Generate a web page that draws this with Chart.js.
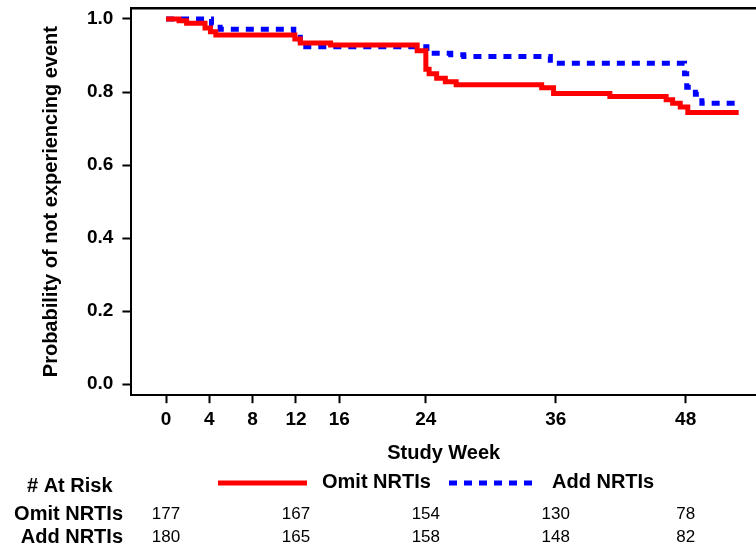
<!DOCTYPE html>
<html>
<head>
<meta charset="utf-8">
<script src="https://cdn.jsdelivr.net/npm/chart.js@4.4.1/dist/chart.umd.min.js"></script>
<style>
  html, body { margin: 0; padding: 0; background: #fff; overflow: hidden; }
  #wrap { position: relative; width: 756px; height: 551px; }
</style>
</head>
<body>
<div id="wrap"><canvas id="kmChart"></canvas></div>
<script>
const seriesNames = ["Omit NRTIs", "Add NRTIs"];

const omitWeeks = [0, 1.2, 1.9, 3.6, 4.1, 4.6, 11.9, 12.4, 15.2, 23.2, 24.0, 24.3, 25.0, 25.8, 26.8, 34.7, 35.8, 41.0, 46.2, 46.8, 47.5, 48.2, 52.9];
const omitSurv = [1.0, 0.995, 0.988, 0.975, 0.965, 0.956, 0.945, 0.934, 0.929, 0.913, 0.862, 0.850, 0.838, 0.828, 0.820, 0.812, 0.796, 0.788, 0.779, 0.769, 0.759, 0.744, 0.744];

const addWeeks = [0, 4.2, 5.0, 11.8, 12.4, 24.1, 26.3, 27.5, 35.5, 47.9, 48.1, 48.9, 49.5, 53.0];
const addSurv = [1.0, 0.984, 0.972, 0.950, 0.924, 0.906, 0.902, 0.897, 0.879, 0.850, 0.813, 0.794, 0.769, 0.769];

const xTickWeeks = [0, 4, 8, 12, 16, 24, 36, 48];
const yTickValues = [0, 0.2, 0.4, 0.6, 0.8, 1.0];

const atRiskWeeks = [0, 12, 24, 36, 48];
const omitAtRisk = [177, 167, 154, 130, 78];
const addAtRisk = [180, 165, 158, 148, 82];

const fontFamily = "'Liberation Sans', Arial, Helvetica, sans-serif";
const red = "#ff0000";
const blue = "#0000ff";
const blueDash = [8, 7];

Chart.defaults.font.family = fontFamily;
Chart.defaults.color = "#000";

function toPoints(weeks, surv) {
  return weeks.map((w, i) => ({ x: w, y: surv[i] }));
}

const atRiskPlugin = {
  id: "atRisk",
  afterDraw(chart) {
    const { ctx } = chart;
    const x = chart.scales.x;
    ctx.save();
    ctx.fillStyle = "#000";
    ctx.textBaseline = "middle";

    ctx.font = `bold 20px ${fontFamily}`;
    ctx.textAlign = "left";
    ctx.fillText("# At Risk", 27, 486);
    ctx.textAlign = "right";
    ctx.fillText(seriesNames[0], 123, 514);
    ctx.fillText(seriesNames[1], 123, 537);

    ctx.font = `17px ${fontFamily}`;
    ctx.textAlign = "center";
    atRiskWeeks.forEach((w, i) => {
      const px = x.getPixelForValue(w);
      ctx.fillText(String(omitAtRisk[i]), px, 514);
      ctx.fillText(String(addAtRisk[i]), px, 537);
    });

    // legend row
    const ly = 483;
    ctx.lineWidth = 5;
    ctx.strokeStyle = red;
    ctx.setLineDash([]);
    ctx.beginPath();
    ctx.moveTo(218, ly);
    ctx.lineTo(307, ly);
    ctx.stroke();
    ctx.strokeStyle = blue;
    ctx.setLineDash(blueDash);
    ctx.beginPath();
    ctx.moveTo(449, ly);
    ctx.lineTo(535, ly);
    ctx.stroke();
    ctx.setLineDash([]);

    ctx.font = `bold 20px ${fontFamily}`;
    ctx.textAlign = "left";
    ctx.fillText(seriesNames[0], 322, 482);
    ctx.fillText(seriesNames[1], 552, 482);
    ctx.restore();
  },
};

const ctx = document.getElementById("kmChart").getContext("2d");
new Chart(ctx, {
  type: "line",
  data: {
    datasets: [
      {
        label: seriesNames[0],
        data: toPoints(omitWeeks, omitSurv),
        borderColor: red,
        borderWidth: 5,
        stepped: "before",
        pointRadius: 0,
        fill: false,
      },
      {
        label: seriesNames[1],
        data: toPoints(addWeeks, addSurv),
        borderColor: blue,
        borderWidth: 5,
        borderDash: blueDash,
        stepped: "before",
        pointRadius: 0,
        fill: false,
      },
    ],
  },
  options: {
    responsive: true,
    maintainAspectRatio: false,
    animation: false,
    layout: { padding: { top: 8, left: 28, right: 0, bottom: 82 } },
    plugins: {
      legend: { display: false },
      tooltip: { enabled: false },
    },
    scales: {
      x: {
        type: "linear",
        position: "bottom",
        min: -3.2,
        max: 54.5,
        afterBuildTicks: (scale) => {
          scale.ticks = xTickWeeks.map((v) => ({ value: v }));
        },
        ticks: {
          padding: 5,
          maxRotation: 0,
          autoSkip: false,
          font: { size: 19, weight: "bold" },
          callback: (v) => String(v),
        },
        grid: {
          display: true,
          drawOnChartArea: false,
          drawTicks: true,
          tickLength: 8,
          tickWidth: 2,
          color: "#000",
        },
        border: { display: true, color: "#000", width: 2 },
        title: {
          display: true,
          text: "Study Week",
          font: { size: 20, weight: "bold" },
          padding: { top: 5, bottom: 4 },
        },
      },
      xTop: {
        type: "linear",
        position: "top",
        min: -3.2,
        max: 54.5,
        ticks: { display: false },
        grid: { display: false, drawTicks: false },
        border: { display: true, color: "#000", width: 2.5 },
      },
      y: {
        min: -0.03,
        max: 1.03,
        afterBuildTicks: (scale) => {
          scale.ticks = yTickValues.map((v) => ({ value: v }));
        },
        afterFit: (scale) => {
          scale.paddingTop = 0;
          scale.paddingBottom = 0;
        },
        ticks: {
          padding: 9,
          font: { size: 19, weight: "bold" },
          callback: (v) => Number(v).toFixed(1),
        },
        grid: {
          display: true,
          drawOnChartArea: false,
          drawTicks: true,
          tickLength: 9,
          tickWidth: 2,
          color: "#000",
        },
        border: { display: true, color: "#000", width: 2 },
        title: {
          display: true,
          text: "Probability of not experiencing event",
          font: { size: 20, weight: "bold" },
          padding: { top: 11, bottom: 15 },
        },
      },
    },
  },
  plugins: [atRiskPlugin],
});
</script>
</body>
</html>
